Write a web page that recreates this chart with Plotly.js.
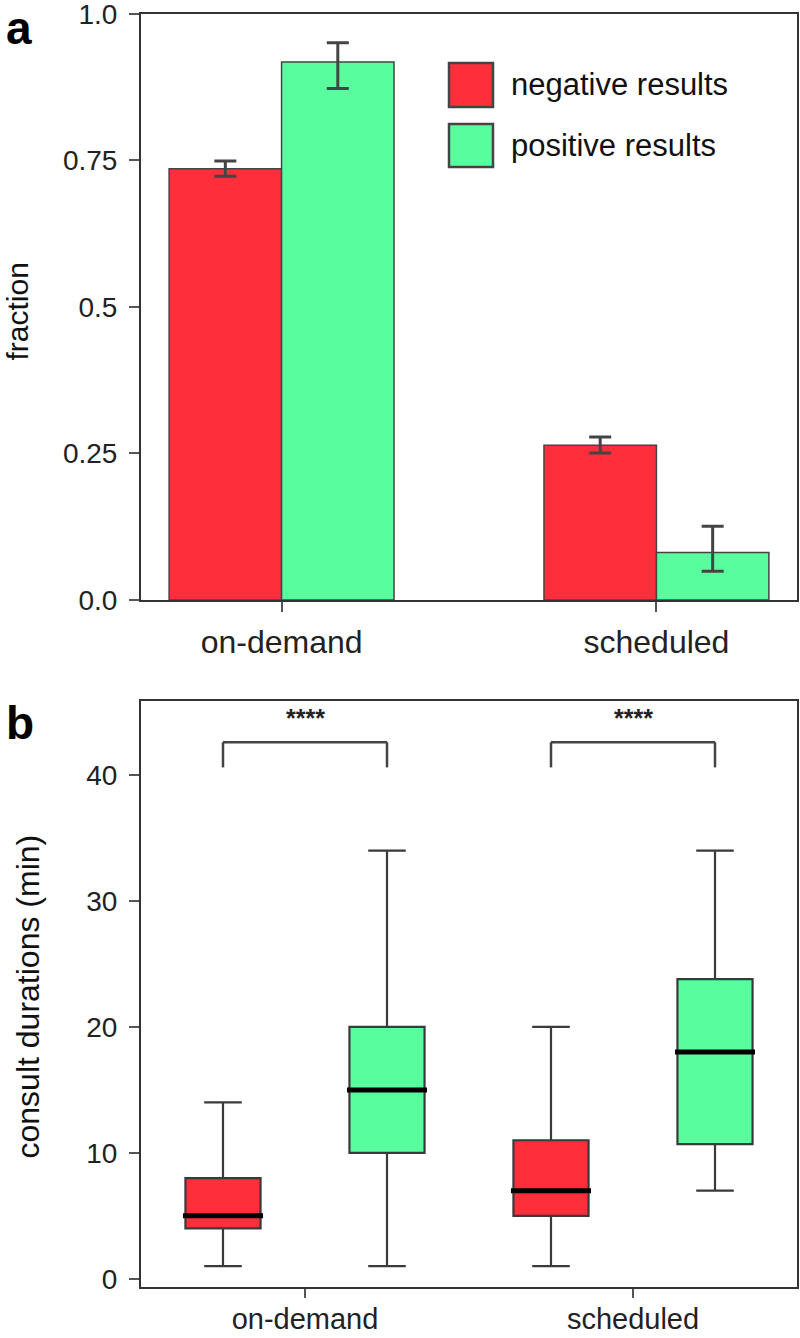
<!DOCTYPE html>
<html>
<head>
<meta charset="utf-8">
<script src="https://cdn.plot.ly/plotly-3.0.1.min.js"></script>
<style>html,body{margin:0;padding:0;background:#fff;}#chart{width:800px;height:1338px;}</style>
</head>
<body>
<div id="chart"></div>
<script>
// ---- data ----
const categories = ['on-demand', 'scheduled'];
const seriesNames = ['negative results', 'positive results'];

// panel a: fractions with error bars
const fracNeg = [0.736, 0.264];
const fracNegErrPlus = [0.013, 0.014];
const fracNegErrMinus = [0.013, 0.013];
const fracPos = [0.918, 0.081];
const fracPosErrPlus = [0.033, 0.045];
const fracPosErrMinus = [0.045, 0.032];
const fracTickVals = [0, 0.25, 0.5, 0.75, 1.0];
const fracTickText = ['0.0', '0.25', '0.5', '0.75', '1.0'];

// panel b: consult durations (min), box statistics
const negLow = [1, 1];
const negQ1 = [4, 5];
const negMedian = [5, 7];
const negQ3 = [8, 11];
const negHigh = [14, 20];
const posLow = [1, 7];
const posQ1 = [10, 10.7];
const posMedian = [15, 18];
const posQ3 = [20, 23.8];
const posHigh = [34, 34];
const durTickVals = [0, 10, 20, 30, 40];
const significance = ['****', '****'];

// ---- styles ----
const RED = '#ff2e3b';
const GREEN = '#58fd9d';
const EDGE = '#444444';
const FONT = 'Liberation Sans, Arial, sans-serif';

const traces = [
  {
    type: 'bar', name: seriesNames[0], x: categories, y: fracNeg,
    marker: {color: RED, line: {color: EDGE, width: 1.5}},
    error_y: {type: 'data', symmetric: false, array: fracNegErrPlus, arrayminus: fracNegErrMinus,
              color: '#444', thickness: 3, width: 11},
    xaxis: 'x', yaxis: 'y', showlegend: false
  },
  {
    type: 'bar', name: seriesNames[1], x: categories, y: fracPos,
    marker: {color: GREEN, line: {color: EDGE, width: 1.5}},
    error_y: {type: 'data', symmetric: false, array: fracPosErrPlus, arrayminus: fracPosErrMinus,
              color: '#444', thickness: 3, width: 11},
    xaxis: 'x', yaxis: 'y', showlegend: false
  },
  {
    type: 'box', name: seriesNames[0], x: categories,
    lowerfence: negLow, q1: negQ1, median: negMedian, q3: negQ3, upperfence: negHigh,
    fillcolor: RED, line: {color: '#3a3a3a', width: 2.2}, whiskerwidth: 0.5,
    boxpoints: false, xaxis: 'x2', yaxis: 'y2', showlegend: false
  },
  {
    type: 'box', name: seriesNames[1], x: categories,
    lowerfence: posLow, q1: posQ1, median: posMedian, q3: posQ3, upperfence: posHigh,
    fillcolor: GREEN, line: {color: '#3a3a3a', width: 2.2}, whiskerwidth: 0.5,
    boxpoints: false, xaxis: 'x2', yaxis: 'y2', showlegend: false
  }
];

const shapes = [];
const annotations = [];

// thick median lines on top of boxes
const medians = [negMedian, posMedian];
const offsets = [-0.25, 0.25];
medians.forEach((med, s) => {
  med.forEach((m, i) => {
    shapes.push({type: 'line', xref: 'x2', yref: 'y2',
      x0: i + offsets[s] - 0.122, x1: i + offsets[s] + 0.122, y0: m, y1: m,
      line: {color: '#000', width: 5}, layer: 'above'});
  });
});

// significance brackets
const bracketLow = 40.6, bracketHigh = 42.6, starY = 44.5;
categories.forEach((c, i) => {
  const xl = i + offsets[0], xr = i + offsets[1];
  const ln = {color: '#444', width: 2.5};
  shapes.push({type: 'line', xref: 'x2', yref: 'y2', x0: xl, x1: xl, y0: bracketLow, y1: bracketHigh, line: ln});
  shapes.push({type: 'line', xref: 'x2', yref: 'y2', x0: xl, x1: xr, y0: bracketHigh, y1: bracketHigh, line: ln});
  shapes.push({type: 'line', xref: 'x2', yref: 'y2', x0: xr, x1: xr, y0: bracketLow, y1: bracketHigh, line: ln});
  annotations.push({xref: 'x2', yref: 'y2', x: c, y: starY, text: '<b>' + significance[i] + '</b>', showarrow: false,
    font: {family: FONT, size: 25, color: '#222'}, xanchor: 'center', yanchor: 'middle'});
});

// custom legend (panel a)
const legendColors = [RED, GREEN];
const legendRows = [[0.9164, 0.8413], [0.8123, 0.7389]];
seriesNames.forEach((n, s) => {
  shapes.push({type: 'rect', xref: 'x domain', yref: 'y domain',
    x0: 0.4695, x1: 0.5366, y0: legendRows[s][1], y1: legendRows[s][0],
    fillcolor: legendColors[s], line: {color: EDGE, width: 2.5}});
  annotations.push({xref: 'x domain', yref: 'y domain', x: 0.561, y: (legendRows[s][0] + legendRows[s][1]) / 2,
    text: n, showarrow: false, xanchor: 'left', yanchor: 'middle',
    font: {family: FONT, size: 31, color: '#111'}});
});

// panel letters
annotations.push({xref: 'paper', yref: 'paper', x: -0.209, y: 1.011, text: '<b>a</b>', showarrow: false,
  xanchor: 'left', yanchor: 'top', font: {family: FONT, size: 46, color: '#000'}});
annotations.push({xref: 'paper', yref: 'paper', x: -0.209, y: 0.4648, text: '<b>b</b>', showarrow: false,
  xanchor: 'left', yanchor: 'top', font: {family: FONT, size: 46, color: '#000'}});

// y-axis titles
annotations.push({xref: 'paper', yref: 'paper', x: -0.189, y: 0.7663, text: 'fraction', textangle: -90,
  showarrow: false, xanchor: 'center', yanchor: 'middle', font: {family: FONT, size: 30, color: '#111'}});
annotations.push({xref: 'paper', yref: 'paper', x: -0.1723, y: 0.2282, text: 'consult durations (min)', textangle: -90,
  showarrow: false, xanchor: 'center', yanchor: 'middle', font: {family: FONT, size: 32, color: '#111'}});

const axisCommon = {
  showline: true, mirror: true, linecolor: '#333', linewidth: 2,
  ticks: 'outside', ticklen: 10, tickwidth: 2, tickcolor: '#555',
  showgrid: false, zeroline: false, fixedrange: true, ticklabeloverflow: 'allow'
};
const xTickFont = {family: FONT, size: 32, color: '#222'};
const xTickFont2 = {family: FONT, size: 29, color: '#222'};
const yTickFont = {family: FONT, size: 28, color: '#222'};

const layout = {
  width: 800, height: 1338,
  margin: {l: 141, r: 3, t: 14, b: 51},
  paper_bgcolor: '#fff', plot_bgcolor: '#fff',
  font: {family: FONT},
  barmode: 'group', bargap: 0.4, bargroupgap: 0,
  boxmode: 'group', boxgap: 0, boxgroupgap: 0.542,
  showlegend: false,
  xaxis: Object.assign({}, axisCommon, {anchor: 'y', type: 'category', categoryorder: 'array',
    categoryarray: categories, range: [-0.375, 1.375], domain: [0, 1], tickfont: xTickFont, ticklabelstandoff: 3}),
  yaxis: Object.assign({}, axisCommon, {anchor: 'x', domain: [0.5397, 1], range: [0, 1],
    tickvals: fracTickVals, ticktext: fracTickText, tickfont: yTickFont, ticklabelstandoff: 6}),
  xaxis2: Object.assign({}, axisCommon, {anchor: 'y2', type: 'category', categoryorder: 'array',
    categoryarray: categories, range: [-0.5, 1.5], domain: [0, 1], tickfont: xTickFont2,
    ticklen: 9, ticklabelstandoff: -4}),
  yaxis2: Object.assign({}, axisCommon, {anchor: 'x2', domain: [0, 0.4606], range: [-0.65, 45.9],
    tickvals: durTickVals, tickfont: yTickFont, ticklabelstandoff: 6}),
  shapes: shapes,
  annotations: annotations
};

Plotly.newPlot('chart', traces, layout, {staticPlot: true, displayModeBar: false});
</script>
</body>
</html>
